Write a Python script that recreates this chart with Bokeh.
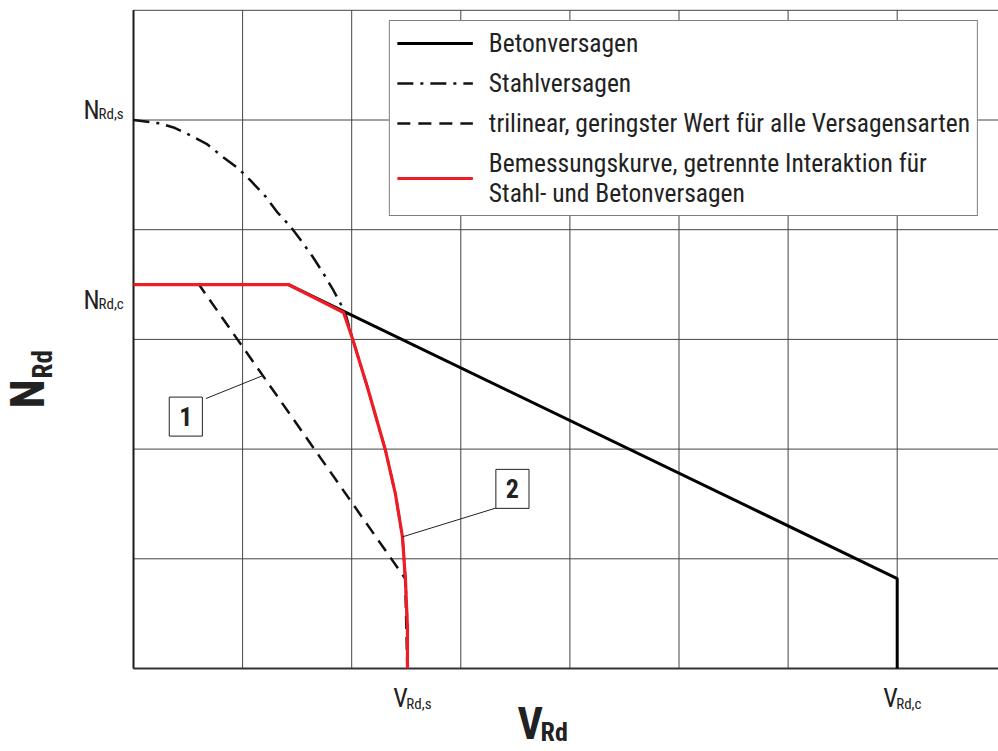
import numpy as np
from bokeh.plotting import figure
from bokeh.models import Range1d, Legend, LegendItem, Label, Arrow
from bokeh.embed import file_html
from bokeh.resources import INLINE

# ---------------- data (grid units) ----------------
concrete_v = [0.0, 1.42, 7.0, 7.0]
concrete_n = [3.5, 3.5, 0.82, 0.0]

steel_v = [0.0, 0.247, 0.367, 0.522, 0.678, 0.825, 0.962, 1.072, 1.210, 1.320,
           1.439, 1.549, 1.641, 1.741, 1.833, 1.897, 1.943, 2.007, 2.145, 2.31,
           2.40, 2.466, 2.493, 2.511, 2.511]
steel_n = [5.0, 4.968, 4.932, 4.859, 4.777, 4.658, 4.558, 4.449, 4.303, 4.157,
           4.029, 3.883, 3.756, 3.601, 3.446, 3.327, 3.236, 3.008, 2.562, 1.987,
           1.595, 1.194, 0.802, 0.374, 0.0]

trilinear_v = [0.0, 0.6, 2.49, 2.51]
trilinear_n = [3.5, 3.5, 0.82, 0.0]

design_v = [0.0, 1.42, 1.925, 2.007, 2.145, 2.31, 2.40, 2.466, 2.493, 2.511, 2.511]
design_n = [3.5, 3.5, 3.245, 3.008, 2.562, 1.987, 1.595, 1.194, 0.802, 0.374, 0.0]

grid_v = [0, 1, 2, 3, 4, 5, 6, 7]
grid_n = [0, 1, 2, 3, 4, 5, 6]

n_ticks = [5.0, 3.5]
n_tick_main = ["N", "N"]
n_tick_subs = ["Rd,s", "Rd,c"]
v_ticks = [2.51, 7.0]
v_tick_main = ["V", "V"]
v_tick_subs = ["Rd,s", "Rd,c"]

legend_labels = ["Betonversagen",
                 "Stahlversagen",
                 "trilinear, geringster Wert für alle Versagensarten",
                 "Bemessungskurve, getrennte Interaktion für\nStahl- und Betonversagen"]
callout_texts = ["1", "2"]

# ---------------- figure ----------------
FONT = "'Roboto Condensed', 'Liberation Sans Narrow', Roboto"
TXT = "#222222"
W, H = 998, 751
ORIGIN_X, ORIGIN_Y = 133, 668      # pixel position of (0, 0)
PX_X = 109.1                        # pixels per grid unit
PX_Y = 109.7

x_start = -ORIGIN_X / PX_X
x_end = (W - ORIGIN_X) / PX_X
y_start = -(H - ORIGIN_Y) / PX_Y
y_end = ORIGIN_Y / PX_Y

p = figure(width=W, height=H, output_backend="svg", toolbar_location=None,
           x_range=Range1d(x_start, x_end), y_range=Range1d(y_start, y_end),
           x_axis_location=None, y_axis_location=None,
           min_border=0, min_border_left=0, min_border_right=0,
           min_border_top=0, min_border_bottom=0)
p.outline_line_color = None
p.background_fill_color = "white"
p.grid.visible = False

n_top = grid_n[-1]
# grid lines
p.segment(x0=grid_v, y0=[0] * len(grid_v), x1=grid_v, y1=[n_top] * len(grid_v),
          line_color="#444444", line_width=1)
p.segment(x0=[0] * len(grid_n), y0=grid_n, x1=[x_end] * len(grid_n), y1=grid_n,
          line_color="#444444", line_width=1)
# axis lines
p.segment(x0=[0], y0=[0], x1=[0], y1=[n_top], line_color="#1a1a1a", line_width=2)
p.segment(x0=[0], y0=[0], x1=[x_end], y1=[0], line_color="#333333", line_width=2)

r_conc = p.line(concrete_v, concrete_n, line_color="black", line_width=3)
r_steel = p.line(steel_v, steel_n, line_color="#111111", line_width=2.5,
                 line_dash="16 7 3 7")
r_tri = p.line(trilinear_v, trilinear_n, line_color="#111111", line_width=2.5,
               line_dash="13 8")
r_des = p.line(design_v, design_n, line_color="#ee1c25", line_width=3.2)

legend = Legend(
    items=[LegendItem(label=legend_labels[0], renderers=[r_conc]),
           LegendItem(label=legend_labels[1], renderers=[r_steel]),
           LegendItem(label=legend_labels[2], renderers=[r_tri]),
           LegendItem(label=legend_labels[3], renderers=[r_des])],
    location="top_right", margin=20, padding=7, spacing=10,
    glyph_width=76, glyph_height=26, label_standoff=16, label_height=30,
    label_text_font=FONT, label_text_font_size="25.5px", label_text_color=TXT,
    label_text_line_height=1.45,
    border_line_color="black", border_line_width=1,
    background_fill_color="white", background_fill_alpha=1.0)
p.add_layout(legend)

# ---------------- tick labels ----------------
n_main_dy = [10, -15]
for t, m, s, dy in zip(n_ticks, n_tick_main, n_tick_subs, n_main_dy):
    p.add_layout(Label(x=0, y=t, x_offset=-50, y_offset=dy, text=m,
                       text_font=FONT, text_font_size="26px", text_color=TXT,
                       text_align="left", text_baseline="alphabetic"))
    p.add_layout(Label(x=0, y=t, x_offset=-35, y_offset=dy - 4, text=s,
                       text_font=FONT, text_font_size="15px", text_color=TXT,
                       text_align="left", text_baseline="alphabetic"))

for t, m, s in zip(v_ticks, v_tick_main, v_tick_subs):
    p.add_layout(Label(x=t, y=0, x_offset=-14, y_offset=-29, text=m,
                       text_font=FONT, text_font_size="26px", text_color=TXT,
                       text_align="left", text_baseline="alphabetic"))
    p.add_layout(Label(x=t, y=0, x_offset=-1, y_offset=-35, text=s,
                       text_font=FONT, text_font_size="15px", text_color=TXT,
                       text_align="left", text_baseline="alphabetic"))

# ---------------- axis titles ----------------
p.add_layout(Label(x=0, y=0, x_offset=-106, y_offset=260, text="N", angle=np.pi / 2,
                   text_font=FONT, text_font_size="48px", text_font_style="bold",
                   text_color=TXT, text_align="left", text_baseline="alphabetic"))
p.add_layout(Label(x=0, y=0, x_offset=-91, y_offset=290, text="Rd", angle=np.pi / 2,
                   text_font=FONT, text_font_size="27px", text_font_style="bold",
                   text_color=TXT, text_align="left", text_baseline="alphabetic"))
p.add_layout(Label(x=0, y=0, x_offset=384, y_offset=-55, text="V",
                   text_font=FONT, text_font_size="44px", text_font_style="bold",
                   text_color=TXT, text_align="left", text_baseline="alphabetic"))
p.add_layout(Label(x=0, y=0, x_offset=407, y_offset=-63, text="Rd",
                   text_font=FONT, text_font_size="26px", text_font_style="bold",
                   text_color=TXT, text_align="left", text_baseline="alphabetic"))

# ---------------- callouts ----------------
n1 = 2.67
v1 = float(np.interp(n1, trilinear_n[::-1], trilinear_v[::-1]))
n2 = 1.2
v2 = float(np.interp(n2, design_n[::-1], design_v[::-1]))

callouts = [
    (v1, n1, -57, -23, -77, -41, callout_texts[0]),
    (v2, n2, 94, 29, 110, 48, callout_texts[1]),
]
for vx, ny, cdx, cdy, bdx, bdy, txt in callouts:
    p.add_layout(Arrow(end=None, x_start=vx + cdx / PX_X, y_start=ny + cdy / PX_Y,
                       x_end=vx, y_end=ny, line_width=1, line_color="#222222"))
    p.add_layout(Label(x=vx, y=ny, x_offset=bdx, y_offset=bdy, text=txt,
                       text_font=FONT, text_font_size="26px", text_font_style="bold",
                       text_color=TXT, text_align="center", text_baseline="middle",
                       border_line_color="#222222", border_line_width=1,
                       background_fill_color="white", padding=dict(x=10, y=10)))

open("out.html", "w").write(file_html(p, INLINE))
